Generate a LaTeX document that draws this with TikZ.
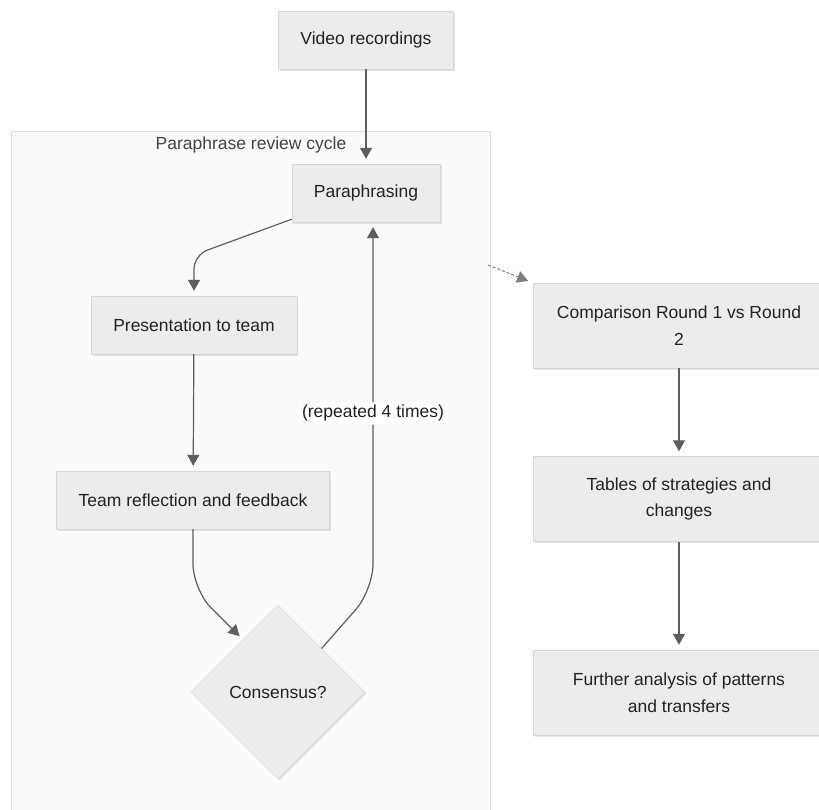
\documentclass[tikz,border=0pt]{standalone}
\usepackage{fontspec}
\setmainfont{Liberation Sans}
\usepackage{tikz}
\usetikzlibrary{arrows.meta, shapes.geometric, shadows, calc}
\definecolor{boxfill}{HTML}{ECECEC}
\definecolor{boxline}{HTML}{D6D6D6}
\definecolor{clusterfill}{HTML}{FAFAFA}
\definecolor{clusterline}{HTML}{DCDCDC}
\definecolor{arrowcol}{HTML}{5E5E5E}
\definecolor{textcol}{HTML}{222222}
\tikzset{
	box/.style={rectangle, draw=boxline, fill=boxfill, text=textcol, font=\fontsize{17.5}{26.5}\selectfont, inner xsep=22pt, minimum height=58pt, drop shadow={shadow xshift=1.5pt, shadow yshift=-1.5pt, opacity=0.2, fill=black!50}},
	widebox/.style={box, minimum width=292pt, minimum height=85pt, align=center},
	decision/.style={box, diamond, inner sep=0pt, minimum width=174pt, minimum height=174pt},
	cluster/.style={rectangle, draw=clusterline, fill=clusterfill, line width=0.8pt},
	clustertext/.style={text=textcol!85, font=\fontsize{17.5}{21}\selectfont},
	flow/.style={color=arrowcol, line width=1.2pt, -{Triangle[length=11pt,width=12pt]}, shorten >=5pt},
	dashflow/.style={flow, color=arrowcol!80, line width=1pt, dash pattern=on 3pt off 2pt},
	replabel/.style={fill=white, text=textcol, font=\fontsize{17.5}{21}\selectfont, inner sep=3pt}
}

\begin{document}
\begin{tikzpicture}[x=1pt, y=-1pt]
	\useasboundingbox (0,0) rectangle (819,809);
	\clip (0,0) rectangle (819,809);
	\fill[white] (0,0) rectangle (819,809);
	\node[cluster, anchor=north west, minimum width=479pt, minimum height=720pt] (cycle) at (11,131) {};
	\node[clustertext] (cyclelabel) at (251,145) {Paraphrase review cycle};
	\node[box] (video) at (366,40) {Video recordings};
	\node[box] (para) at (366,193) {Paraphrasing};
	\node[box] (pres) at (194,325) {Presentation to team};
	\node[box] (team) at (193,500) {Team reflection and feedback};
	\node[decision] (cons) at (278,692) {Consensus?};
	\node[widebox] (cmp) at (679,325.5) {Comparison Round 1 vs Round\\2};
	\node[widebox] (tab) at (679,499) {Tables of strategies and\\changes};
	\node[widebox] (ana) at (679,692.5) {Further analysis of patterns\\and transfers};
	\coordinate (dashstart) at (488,265);
	\path[flow]
		(video) edge (para)
		(pres) edge (team)
		(cmp) edge (tab)
		(tab) edge (ana)
		;
	\draw[flow, rounded corners=14pt] ([yshift=3pt]para.south west) -- (pres.north |- 0,255) -- (pres.north);
	\draw[flow, rounded corners=26pt] (team.south) -- (team.south |- 0,590) -- ($(cons.north west)!0.2!(cons.north)$);
	\draw[flow, rounded corners=26pt] (cons.north east) -- (373,590) -- node[replabel, pos=0.48] {(repeated 4 times)} (para.south -| 373,0);
	\draw[dashflow] (dashstart) -- (cmp.north west);
\end{tikzpicture}
\end{document}
